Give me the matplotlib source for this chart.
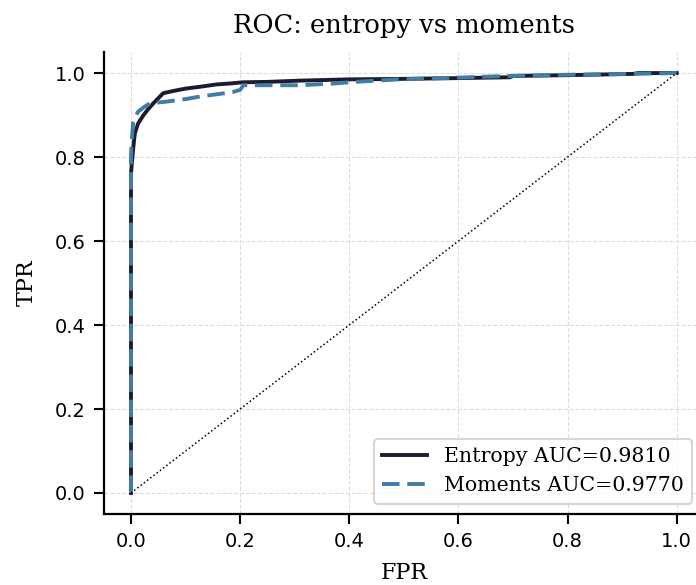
import matplotlib
matplotlib.use("Agg")
import matplotlib.pyplot as plt

# ROC points
entropy_fpr = [0.0, 0.0, 0.001, 0.004, 0.007, 0.013, 0.023, 0.032, 0.041, 0.05, 0.059,
               0.08, 0.1, 0.13, 0.157, 0.18, 0.205, 0.25, 0.31, 0.4, 0.49, 0.6,
               0.694, 0.7, 0.8, 0.92, 0.93, 1.0]
entropy_tpr = [0.0, 0.76, 0.777, 0.82, 0.856, 0.88, 0.90, 0.915, 0.928, 0.94, 0.952,
               0.958, 0.963, 0.968, 0.973, 0.975, 0.978, 0.979, 0.982, 0.985, 0.986, 0.988,
               0.99, 0.993, 0.995, 0.998, 1.0, 1.0]

moments_fpr = [0.0, 0.0, 0.001, 0.004, 0.013, 0.025, 0.035, 0.065, 0.1, 0.126, 0.16,
               0.187, 0.2, 0.206, 0.25, 0.31, 0.37, 0.41, 0.49, 0.597, 0.688, 0.8,
               0.919, 1.0]
moments_tpr = [0.0, 0.80, 0.833, 0.884, 0.908, 0.92, 0.928, 0.932, 0.938, 0.944, 0.95,
               0.955, 0.96, 0.971, 0.971, 0.971, 0.975, 0.979, 0.985, 0.989, 0.993, 0.996,
               0.998, 1.0]

labels = ["Entropy AUC=0.9810", "Moments AUC=0.9770"]

plt.rcParams['font.family'] = ['DejaVu Serif']

fig = plt.figure(figsize=(6.96, 5.85), dpi=100)
ax = fig.add_axes([0.149, 0.1214, 0.8625, 0.7896])

ax.plot(entropy_fpr, entropy_tpr, color="#1d1b31", lw=2.8, label=labels[0])
ax.plot(moments_fpr, moments_tpr, color="#417da4", lw=2.8, ls=(0, (4.5, 2.0)), label=labels[1])
ax.plot([0, 1], [0, 1], color="black", lw=1.1, ls=":")

ax.set_xlim(-0.05, 1.05)
ax.set_ylim(-0.05, 1.05)
ax.set_xticks([0, 0.2, 0.4, 0.6, 0.8, 1.0])
ax.set_yticks([0, 0.2, 0.4, 0.6, 0.8, 1.0])
ax.grid(True, ls="--", color="#dddddd", lw=0.8)
ax.spines["top"].set_visible(False)
ax.spines["right"].set_visible(False)
ax.spines["left"].set_linewidth(1.6)
ax.spines["bottom"].set_linewidth(1.6)
ax.tick_params(labelsize=14, width=1.5, length=7, pad=6)
for lab in ax.get_xticklabels() + ax.get_yticklabels():
    lab.set_family("DejaVu Sans")

ax.set_xlabel("FPR", fontsize=16, labelpad=8)
ax.set_ylabel("TPR", fontsize=16, labelpad=12)
ax.set_title("ROC: entropy vs moments", fontsize=18.5, pad=14)

leg = ax.legend(loc="lower right", fontsize=14.8, frameon=True, fancybox=True,
                bbox_to_anchor=(0.997, 0.0), handlelength=2.2)
leg.get_frame().set_edgecolor("#cccccc")
leg.get_frame().set_linewidth(1.5)

fig.savefig("out.png", dpi=100)
